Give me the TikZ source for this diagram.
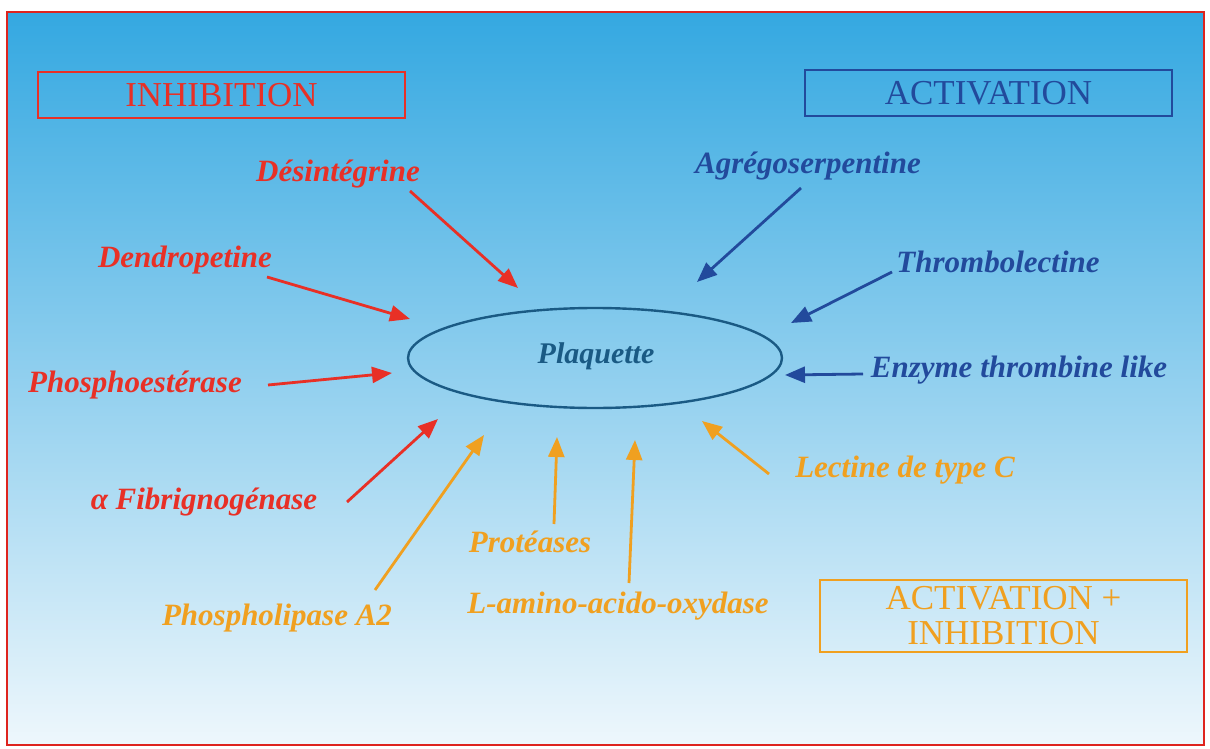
\documentclass[tikz,border=0pt]{standalone}
\usepackage{fontspec}
\setmainfont{Liberation Serif}
\usetikzlibrary{arrows.meta}
\definecolor{cred}{RGB}{232,48,38}
\definecolor{cblue}{RGB}{34,74,156}
\definecolor{corange}{RGB}{240,160,32}
\definecolor{cteal}{RGB}{26,90,132}
\definecolor{frame}{RGB}{222,36,30}
\definecolor{bgtop}{RGB}{52,168,225}
\definecolor{bgmid}{RGB}{140,206,238}
\definecolor{bgbot}{RGB}{238,247,252}
\tikzset{
  lab/.style={font=\fontsize{31}{34}\selectfont\bfseries\itshape, inner sep=0pt},
  boxlab/.style={draw, line width=2pt, minimum height=46pt, font=\fontsize{35}{38}\selectfont},
  arr/.style={line width=2.8pt, -{Triangle[length=20pt,width=16pt]}},
}
\begin{document}
\begin{tikzpicture}[x=1pt,y=-1pt]
\useasboundingbox (0,0) rectangle (1210,749);
\fill[white] (0,0) rectangle (1210,749);
\shade[top color=bgtop, middle color=bgmid, bottom color=bgbot] (7,12) rectangle (1204,745);
\draw[frame, line width=2pt] (7,12) rectangle (1204,745);

% boxes
\node[boxlab, draw=cred, text=cred, minimum width=367pt] (inh) at (221.5,95) {INHIBITION};
\node[boxlab, draw=cblue, text=cblue, minimum width=367pt] (act) at (988.5,93) {ACTIVATION};
\node[boxlab, draw=corange, text=corange, minimum width=367pt, minimum height=72pt, align=center,
      inner sep=0pt, font=\fontsize{35}{35}\selectfont] (ai) at (1003.5,616) {ACTIVATION +\\INHIBITION};

% central ellipse
\draw[cteal, line width=2.4pt] (595,358) ellipse [x radius=187, y radius=50];
\node[lab, text=cteal, font=\fontsize{30}{32}\selectfont\bfseries\itshape] (plq) at (596,356) {Plaquette};

% labels
\node[lab, text=cred] (des) at (338,174) {Désintégrine};
\node[lab, text=cred] (den) at (185,260) {Dendropetine};
\node[lab, text=cred] (pho) at (135,385) {Phosphoestérase};
\node[lab, text=cred] (fib) at (204,502) {α Fibrignogénase};
\node[lab, text=cblue] (agr) at (808,166) {Agrégoserpentine};
\node[lab, text=cblue] (thr) at (998,262) {Thrombolectine};
\node[lab, text=cblue] (enz) at (1019,370) {Enzyme thrombine like};
\node[lab, text=corange] (lec) at (905,470) {Lectine de type C};
\node[lab, text=corange] (pro) at (530,542) {Protéases};
\node[lab, text=corange] (lam) at (618,606) {L-amino-acido-oxydase};
\node[lab, text=corange] (phl) at (277,618) {Phospholipase A2};

% arrow ends
\coordinate (desS) at (410,191); \coordinate (desT) at (518,288);
\coordinate (denS) at (267,277); \coordinate (denT) at (410,319);
\coordinate (phoS) at (268,385); \coordinate (phoT) at (392,373);
\coordinate (fibS) at (347,502); \coordinate (fibT) at (438,419);
\coordinate (phlS) at (375,590); \coordinate (phlT) at (484,435);
\coordinate (proS) at (554,524); \coordinate (proT) at (557,437);
\coordinate (lamS) at (629,583); \coordinate (lamT) at (635,440);
\coordinate (lecS) at (769,474); \coordinate (lecT) at (702,421);
\coordinate (agrS) at (801,188); \coordinate (agrT) at (697,282);
\coordinate (thrS) at (892,272); \coordinate (thrT) at (791,323);
\coordinate (enzS) at (863,374); \coordinate (enzT) at (785,375);

\draw[arr, cred] (desS) -- (desT);
\draw[arr, cred] (denS) -- (denT);
\draw[arr, cred] (phoS) -- (phoT);
\draw[arr, cred] (fibS) -- (fibT);
\draw[arr, cblue] (agrS) -- (agrT);
\draw[arr, cblue] (thrS) -- (thrT);
\draw[arr, cblue] (enzS) -- (enzT);
\draw[arr, corange] (lecS) -- (lecT);
\draw[arr, corange] (proS) -- (proT);
\draw[arr, corange] (lamS) -- (lamT);
\draw[arr, corange] (phlS) -- (phlT);
\end{tikzpicture}
\end{document}
